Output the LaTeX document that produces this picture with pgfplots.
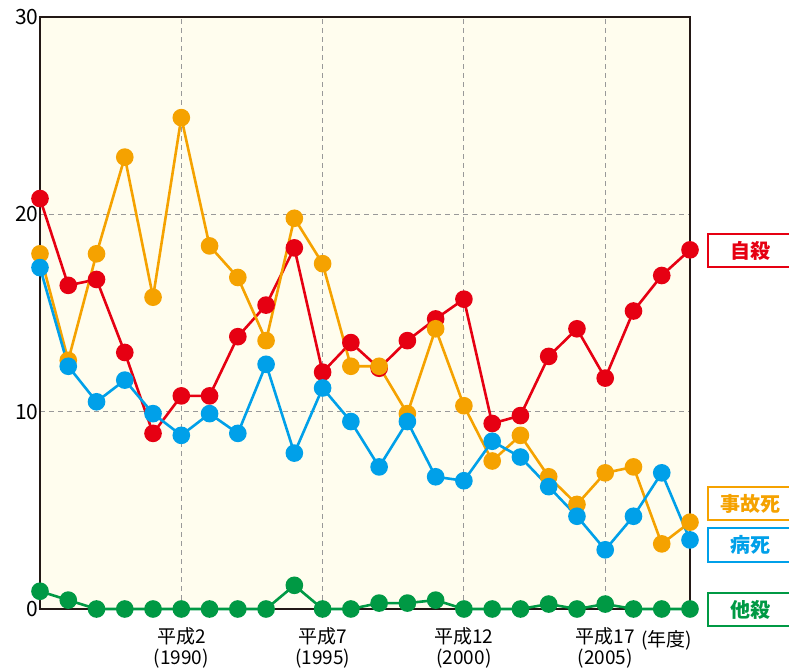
\documentclass[border=0pt]{standalone}
\usepackage{pgfplots}
\pgfplotsset{compat=1.18}
\usepackage{pgfplotstable}
\usepackage{fontspec}
\setmainfont{Noto Sans CJK JP}
\definecolor{cRed}{HTML}{E60012}
\definecolor{cOrg}{HTML}{F5A200}
\definecolor{cBlu}{HTML}{00A0E9}
\definecolor{cGrn}{HTML}{009944}
\definecolor{cBg}{HTML}{FFFDEE}
\definecolor{cAx}{HTML}{231815}
\pgfplotstableread{
year jisatsu jiko byoshi tasatsu
1985 20.8 18.0 17.3 0.9
1986 16.4 12.6 12.3 0.45
1987 16.7 18.0 10.5 0
1988 13.0 22.9 11.6 0
1989 8.9 15.8 9.9 0
1990 10.8 24.9 8.8 0
1991 10.8 18.4 9.9 0
1992 13.8 16.8 8.9 0
1993 15.4 13.6 12.4 0
1994 18.3 19.8 7.9 1.2
1995 12.0 17.5 11.2 0
1996 13.5 12.3 9.5 0
1997 12.2 12.3 7.2 0.3
1998 13.6 9.9 9.5 0.3
1999 14.7 14.2 6.7 0.45
2000 15.7 10.3 6.5 0
2001 9.4 7.5 8.5 0
2002 9.8 8.8 7.7 0
2003 12.8 6.7 6.2 0.25
2004 14.2 5.3 4.7 0
2005 11.7 6.9 3.0 0.25
2006 15.1 7.2 4.7 0
2007 16.9 3.3 6.9 0
2008 18.2 4.4 3.5 0
}\data
\begin{document}
\begin{tikzpicture}[x=1pt,y=1pt]
\useasboundingbox (-40,-59) rectangle (749,609);
\begin{axis}[
  at={(0,0)}, anchor=south west,
  scale only axis, width=650pt, height=592pt,
  xmin=1985, xmax=2008, ymin=0, ymax=30,
  clip=false,
  axis background/.style={fill=cBg},
  axis line style={cAx, line width=2.5pt},
  xtick={1990,1995,2000,2005},
  xticklabels={{平成2\\(1990)},{平成7\\(1995)},{平成12\\(2000)},{平成17\\(2005)}},
  xticklabel style={align=center, font=\fontsize{19}{21}\selectfont, yshift=-15pt},
  ytick={0,10,20,30},
  yticklabels={0,10,20,30},
  yticklabel style={font=\fontsize{21}{23}\selectfont, xshift=2pt},
  major tick length=0pt,
  grid=major,
  major grid style={gray!80, dashed, line width=1pt, dash pattern=on 5pt off 4pt},
  every axis plot/.append style={line width=2.6pt, mark=*, mark size=7.5pt},
]
\addplot[cRed, mark options={fill=cRed, draw=cRed}] table[x=year,y=jisatsu]{\data};
\addplot[cOrg, mark options={fill=cOrg, draw=cOrg}] table[x=year,y=jiko]{\data};
\addplot[cBlu, mark options={fill=cBlu, draw=cBlu}] table[x=year,y=byoshi]{\data};
\addplot[cGrn, mark options={fill=cGrn, draw=cGrn}] table[x=year,y=tasatsu]{\data};
\end{axis}
\node[font=\fontsize{19}{21}\selectfont, anchor=west] at (598,-31) {(年度)};
\begin{scope}[line width=2.5pt]
\draw[cRed, fill=white] (668,342) rectangle (760,375);
\node[cRed, font=\fontsize{20}{22}\selectfont\bfseries] at (710,358.5) {自殺};
\draw[cOrg, fill=white] (668,89) rectangle (760,122);
\node[cOrg, font=\fontsize{20}{22}\selectfont\bfseries] at (710,105.5) {事故死};
\draw[cBlu, fill=white] (668,47) rectangle (760,81);
\node[cBlu, font=\fontsize{20}{22}\selectfont\bfseries] at (710,64) {病死};
\draw[cGrn, fill=white] (668,-17) rectangle (760,16);
\node[cGrn, font=\fontsize{20}{22}\selectfont\bfseries] at (710,-0.5) {他殺};
\end{scope}
\end{tikzpicture}
\end{document}
